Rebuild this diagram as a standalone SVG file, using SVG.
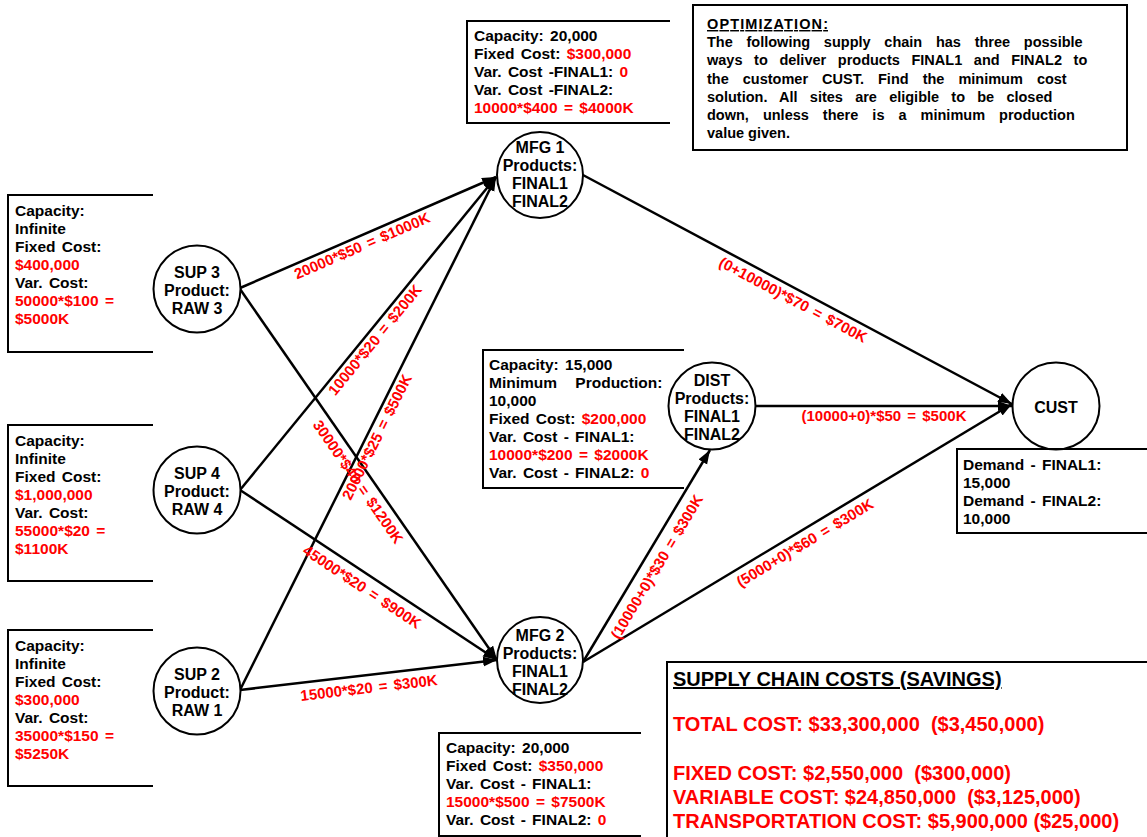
<svg xmlns="http://www.w3.org/2000/svg" width="1147" height="837" viewBox="0 0 1147 837">
<style>
text{font-family:"Liberation Sans",Arial,Helvetica,sans-serif;font-weight:bold;fill:#000}
.b{font-size:15.5px;word-spacing:2px}
.n{font-size:16px;text-anchor:middle}
.r{fill:#ff0000}
.lb{font-size:15px;fill:#ff0000;text-anchor:middle;word-spacing:2px}
.o{font-size:14.5px}
.c{font-size:20px;fill:#ff0000}
.box{fill:none;stroke:#000;stroke-width:2}
.nd{fill:#fff;stroke:#000;stroke-width:2}
.e{stroke:#000;stroke-width:2.5;fill:none;marker-end:url(#ah)}
</style>
<defs>
<marker id="ah" markerUnits="userSpaceOnUse" markerWidth="15" markerHeight="11" refX="14" refY="5" orient="auto">
<path d="M0,0 L14,5 L0,10 z" fill="#000"/>
</marker>
</defs>
<rect width="1147" height="837" fill="#fff"/>

<g id="connectors">
<path class="e" d="M240,288 L496,177"/>
<path class="e" d="M240,289 L497,660"/>
<path class="e" d="M240,490 L496,177"/>
<path class="e" d="M240,490 L497,660"/>
<path class="e" d="M240,690 L496,177"/>
<path class="e" d="M240,690 L497,660"/>
<path class="e" d="M583,175 L1012,404"/>
<path class="e" d="M583,662 L710,450"/>
<path class="e" d="M755,406 L1012,406"/>
<path class="e" d="M583,662 L1012,404"/>
<text class="lb" transform="translate(362,246) rotate(-23.4)" y="5">20000*$50 = $1000K</text>
<text class="lb" transform="translate(375,340) rotate(-50.7)" y="5">10000*$20 = $200K</text>
<text class="lb" transform="translate(377,437) rotate(-63.5)" y="5">20000*$25 = $500K</text>
<text class="lb" transform="translate(358,482) rotate(55.3)" y="5">30000*$40 = $1200K</text>
<text class="lb" transform="translate(362,587) rotate(33.5)" y="5">45000*$20 = $900K</text>
<text class="lb" transform="translate(369,688) rotate(-6.7)" y="5">15000*$20 = $300K</text>
<text class="lb" transform="translate(793,300) rotate(28)" y="5">(0+10000)*$70 = $700K</text>
<text class="lb" transform="translate(884,416)" y="5">(10000+0)*$50 = $500K</text>
<text class="lb" transform="translate(657,567) rotate(-59.1)" y="5">(10000+0)*$30 = $300K</text>
<text class="lb" transform="translate(805,543) rotate(-31)" y="5">(5000+0)*$60 = $300K</text>
</g>

<g id="sup3">
<circle class="nd" cx="197" cy="289" r="43.5"/>
<text class="n" x="197" y="278">SUP 3</text>
<text class="n" x="197" y="296">Product:</text>
<text class="n" x="197" y="314">RAW 3</text>
</g>
<g id="sup3-info">
<path class="box" d="M153,195 H8 V352 H153"/>
<text class="b" x="15" y="216">Capacity:</text>
<text class="b" x="15" y="234">Infinite</text>
<text class="b" x="15" y="252">Fixed Cost:</text>
<text class="b r" x="15" y="270">$400,000</text>
<text class="b" x="15" y="288">Var. Cost:</text>
<text class="b r" x="15" y="306">50000*$100 =</text>
<text class="b r" x="15" y="324">$5000K</text>
</g>

<g id="sup4">
<circle class="nd" cx="197" cy="490" r="43.5"/>
<text class="n" x="197" y="479">SUP 4</text>
<text class="n" x="197" y="497">Product:</text>
<text class="n" x="197" y="515">RAW 4</text>
</g>
<g id="sup4-info">
<path class="box" d="M153,425 H8 V581 H153"/>
<text class="b" x="15" y="446">Capacity:</text>
<text class="b" x="15" y="464">Infinite</text>
<text class="b" x="15" y="482">Fixed Cost:</text>
<text class="b r" x="15" y="500">$1,000,000</text>
<text class="b" x="15" y="518">Var. Cost:</text>
<text class="b r" x="15" y="536">55000*$20 =</text>
<text class="b r" x="15" y="554">$1100K</text>
</g>

<g id="sup2">
<circle class="nd" cx="197" cy="691" r="43.5"/>
<text class="n" x="197" y="680">SUP 2</text>
<text class="n" x="197" y="698">Product:</text>
<text class="n" x="197" y="716">RAW 1</text>
</g>
<g id="sup2-info">
<path class="box" d="M153,630 H8 V786 H153"/>
<text class="b" x="15" y="651">Capacity:</text>
<text class="b" x="15" y="669">Infinite</text>
<text class="b" x="15" y="687">Fixed Cost:</text>
<text class="b r" x="15" y="705">$300,000</text>
<text class="b" x="15" y="723">Var. Cost:</text>
<text class="b r" x="15" y="741">35000*$150 =</text>
<text class="b r" x="15" y="759">$5250K</text>
</g>

<g id="mfg1">
<circle class="nd" cx="540" cy="175" r="43"/>
<text class="n" x="540" y="153">MFG 1</text>
<text class="n" x="540" y="171">Products:</text>
<text class="n" x="540" y="189">FINAL1</text>
<text class="n" x="540" y="207">FINAL2</text>
</g>
<g id="mfg1-info">
<path class="box" d="M670,21 H467 V123 H670"/>
<text class="b" x="474" y="41">Capacity: 20,000</text>
<text class="b" x="474" y="59">Fixed Cost: <tspan class="r">$300,000</tspan></text>
<text class="b" x="474" y="77">Var. Cost -FINAL1: <tspan class="r">0</tspan></text>
<text class="b" x="474" y="95">Var. Cost -FINAL2:</text>
<text class="b r" x="474" y="113">10000*$400 = $4000K</text>
</g>

<g id="mfg2">
<circle class="nd" cx="540" cy="660" r="43"/>
<text class="n" x="540" y="641">MFG 2</text>
<text class="n" x="540" y="659">Products:</text>
<text class="n" x="540" y="677">FINAL1</text>
<text class="n" x="540" y="695">FINAL2</text>
</g>
<g id="mfg2-info">
<path class="box" d="M641,733 H439 V836 H641"/>
<text class="b" x="446" y="753">Capacity: 20,000</text>
<text class="b" x="446" y="771">Fixed Cost: <tspan class="r">$350,000</tspan></text>
<text class="b" x="446" y="789">Var. Cost - FINAL1:</text>
<text class="b r" x="446" y="807">15000*$500 = $7500K</text>
<text class="b" x="446" y="825">Var. Cost - FINAL2: <tspan class="r">0</tspan></text>
</g>

<g id="dist">
<circle class="nd" cx="712" cy="406" r="43.5"/>
<text class="n" x="712" y="386">DIST</text>
<text class="n" x="712" y="404">Products:</text>
<text class="n" x="712" y="422">FINAL1</text>
<text class="n" x="712" y="440">FINAL2</text>
</g>
<g id="dist-info">
<path class="box" d="M684,350 H483 V488 H684"/>
<text class="b" x="489" y="370">Capacity: 15,000</text>
<text class="b" x="489" y="388" style="word-spacing:14px">Minimum Production:</text>
<text class="b" x="489" y="406">10,000</text>
<text class="b" x="489" y="424">Fixed Cost: <tspan class="r">$200,000</tspan></text>
<text class="b" x="489" y="442">Var. Cost - FINAL1:</text>
<text class="b r" x="489" y="460">10000*$200 = $2000K</text>
<text class="b" x="489" y="478">Var. Cost - FINAL2: <tspan class="r">0</tspan></text>
</g>

<g id="cust">
<circle class="nd" cx="1056" cy="406" r="43.5"/>
<text class="n" x="1056" y="413">CUST</text>
</g>
<g id="cust-info">
<path class="box" d="M1147,449 H957 V533 H1147"/>
<text class="b" x="963" y="470">Demand - FINAL1:</text>
<text class="b" x="963" y="488">15,000</text>
<text class="b" x="963" y="506">Demand - FINAL2:</text>
<text class="b" x="963" y="524">10,000</text>
</g>

<g id="optimization">
<rect class="box" x="693" y="5" width="434" height="145"/>
<text class="o" x="707" y="29" text-decoration="underline" textLength="121" lengthAdjust="spacing">OPTIMIZATION:</text>
<text class="o" x="707" y="47" style="word-spacing:9.7px">The following supply chain has three possible</text>
<text class="o" x="707" y="65" style="word-spacing:7.6px">ways to deliver products FINAL1 and FINAL2 to</text>
<text class="o" x="707" y="84" style="word-spacing:10px">the customer CUST. Find the minimum cost</text>
<text class="o" x="707" y="102" style="word-spacing:8.2px">solution. All sites are eligible to be closed</text>
<text class="o" x="707" y="120" style="word-spacing:10px">down, unless there is a minimum production</text>
<text class="o" x="707" y="138">value given.</text>
</g>

<g id="costs">
<path class="box" d="M1147,662 H667 V837"/>
<text class="c" x="673" y="686" style="fill:#000" text-decoration="underline">SUPPLY CHAIN COSTS (SAVINGS)</text>
<text class="c" x="673" y="731" xml:space="preserve">TOTAL COST: $33,300,000  ($3,450,000)</text>
<text class="c" x="673" y="780" xml:space="preserve">FIXED COST: $2,550,000  ($300,000)</text>
<text class="c" x="673" y="804" xml:space="preserve">VARIABLE COST: $24,850,000  ($3,125,000)</text>
<text class="c" x="673" y="828">TRANSPORTATION COST: $5,900,000 ($25,000)</text>
</g>
</svg>
